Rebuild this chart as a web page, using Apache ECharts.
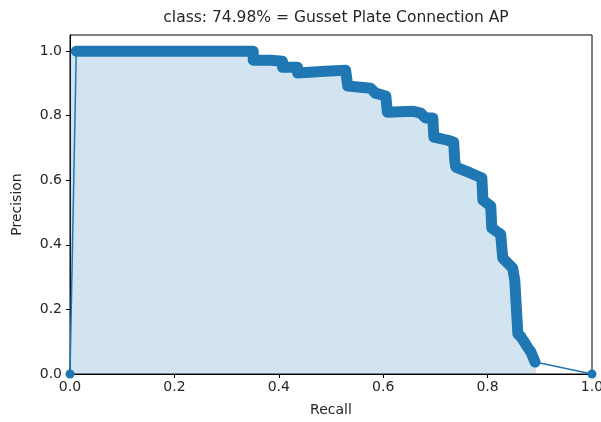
<!DOCTYPE html>
<html>
<head>
<meta charset="utf-8">
<script src="https://cdn.jsdelivr.net/npm/echarts@6/dist/echarts.min.js"></script>
<style>
  html, body { margin: 0; padding: 0; background: #fff; }
  #chart { width: 601px; height: 422px; }
</style>
</head>
<body>
<div id="chart"></div>
<script>
// precision / recall points
const recall = [0, 0.012, 0.351, 0.351, 0.384, 0.407, 0.407, 0.436, 0.436, 0.489, 0.528,
  0.532, 0.576, 0.585, 0.605, 0.608, 0.656, 0.672, 0.681, 0.695, 0.697, 0.724, 0.735,
  0.737, 0.739, 0.768, 0.789, 0.791, 0.806, 0.808, 0.825, 0.829, 0.848, 0.852, 0.858,
  0.864, 0.879, 0.883, 0.891, 1.0]
const precision = [0, 1.0, 1.0, 0.972, 0.972, 0.969, 0.950, 0.950, 0.932, 0.938, 0.941,
  0.892, 0.885, 0.870, 0.861, 0.811, 0.814, 0.808, 0.793, 0.793, 0.734, 0.724, 0.718,
  0.663, 0.641, 0.622, 0.607, 0.539, 0.520, 0.452, 0.433, 0.359, 0.328, 0.291, 0.124,
  0.115, 0.077, 0.068, 0.037, 0]
const xTicks = [0, 0.2, 0.4, 0.6, 0.8, 1.0]
const yTicks = [0, 0.2, 0.4, 0.6, 0.8, 1.0]
const titleText = 'class: 74.98% = Gusset Plate Connection AP'

const blue = '#1f77b4'
const txt = '#262626'
const font = 'DejaVu Sans'

let pts = recall.map((r, i) => [r, precision[i]])

// shaded area: precision envelope (max to the right), closed at the last recall
let env = precision.slice(1, -1)
for (let i = env.length - 2; i >= 0; i--) env[i] = Math.max(env[i], env[i + 1])
let area = [[0, env[0]]]
recall.slice(1, -1).forEach((r, i) => area.push([r, env[i]]))
area.push([recall[recall.length - 2], 0])

let chart = echarts.init(document.getElementById('chart'))
let option = {
  animation: false,
  title: {
    text: titleText,
    left: 331, top: 5, textAlign: 'center',
    textStyle: { fontFamily: font, fontSize: 15.5, fontWeight: 'normal', color: txt }
  },
  grid: {
    left: 70, right: 9, top: 35, bottom: 48,
    outerBoundsMode: 'none',
    show: true, borderColor: '#000', borderWidth: 1
  },
  xAxis: {
    type: 'value', min: 0, max: 1,
    name: 'Recall', nameLocation: 'middle', nameGap: 29,
    nameTextStyle: { fontFamily: font, fontSize: 14, color: txt },
    axisLine: { show: true, onZero: false, lineStyle: { color: '#000', width: 1 } },
    axisTick: { show: true, length: 4, customValues: xTicks, lineStyle: { color: '#000' } },
    axisLabel: {
      customValues: xTicks, margin: 6,
      fontFamily: font, fontSize: 14, color: txt,
      formatter: v => v.toFixed(1)
    },
    splitLine: { show: false }
  },
  yAxis: {
    type: 'value', min: 0, max: 1.05,
    name: 'Precision', nameLocation: 'middle', nameGap: 46, nameRotate: 90,
    nameTextStyle: { fontFamily: font, fontSize: 14, color: txt },
    axisLine: { show: true, onZero: false, lineStyle: { color: '#000', width: 1 } },
    axisTick: { show: true, length: 4, customValues: yTicks, lineStyle: { color: '#000' } },
    axisLabel: {
      customValues: yTicks, margin: 8,
      fontFamily: font, fontSize: 14, color: txt,
      formatter: v => v.toFixed(1)
    },
    splitLine: { show: false }
  },
  series: [
    {
      type: 'line', data: area, symbol: 'none', z: 1,
      lineStyle: { color: 'rgba(255,0,0,0.2)', width: 1 },
      areaStyle: { color: blue, opacity: 0.2 }
    },
    {
      // the dense markers read as a thick band
      type: 'line', data: pts.slice(1, -1), symbol: 'none', z: 2,
      lineStyle: { color: blue, width: 11, cap: 'round', join: 'round' }
    },
    {
      type: 'line', data: pts, z: 3,
      symbol: 'circle', symbolSize: 9, showAllSymbol: true,
      itemStyle: { color: blue },
      lineStyle: { color: blue, width: 1.5 }
    }
  ]
}
option && chart.setOption(option)
</script>
</body>
</html>
